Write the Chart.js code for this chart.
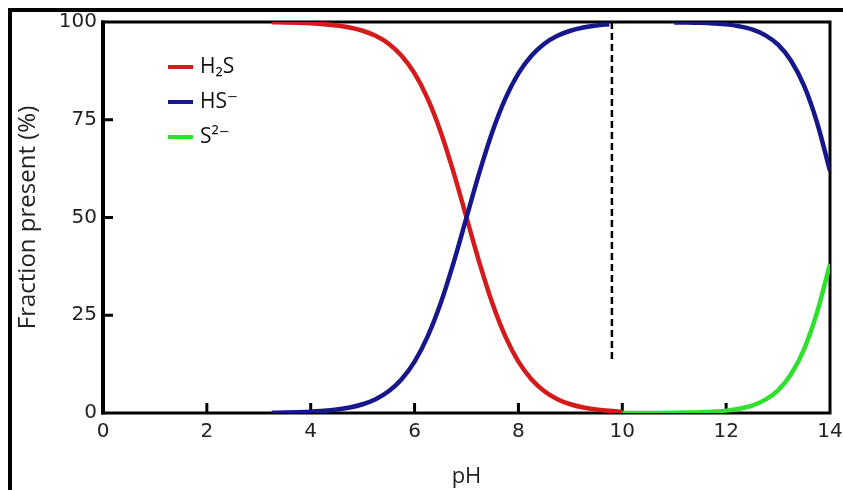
<!DOCTYPE html>
<html>
<head>
<meta charset="utf-8">
<title>Sulfide speciation vs pH</title>
<script src="https://cdn.jsdelivr.net/npm/chart.js@4.4.1/dist/chart.umd.min.js"></script>
<style>
  html, body { margin: 0; padding: 0; background: #fff; }
  #wrap { position: relative; width: 843px; height: 490px; overflow: hidden; }
  #border {
    position: absolute; left: 8px; top: 8px; right: 0; bottom: 0;
    border-top: 4px solid #000; border-left: 4px solid #000;
    pointer-events: none;
  }
</style>
</head>
<body>
<div id="wrap">
  <canvas id="chart" width="843" height="490"></canvas>
  <div id="border"></div>
</div>
<script>
// pH grid and the fraction (%) of each species
const phValues = [3.25, 3.5, 3.75, 4, 4.25, 4.5, 4.75, 5, 5.25, 5.5, 5.75, 6, 6.25, 6.5, 6.75, 7,
  7.25, 7.5, 7.75, 8, 8.25, 8.5, 8.75, 9, 9.25, 9.5, 9.75, 10, 10.25, 10.5, 10.75, 11,
  11.25, 11.5, 11.75, 12, 12.25, 12.5, 12.75, 13, 13.25, 13.5, 13.75, 14];

const h2sValues = [99.92, 99.87, 99.78, 99.65, 99.45, 99.12, 98.59, 97.76, 96.46, 94.44, 91.37, 86.85,
  80.47, 72.0, 61.59, 50.0, 38.41, 28.0, 19.53, 13.15, 8.63, 5.56, 3.54, 2.24, 1.41, 0.88, 0.55, 0.35,
  null, null, null, null, null, null, null, null, null, null, null, null, null, null, null, null];

const hsValues = [0.08, 0.13, 0.22, 0.35, 0.55, 0.88, 1.41, 2.24, 3.54, 5.56, 8.63, 13.15,
  19.53, 28.0, 38.41, 50.0, 61.59, 72.0, 80.47, 86.85, 91.37, 94.44, 96.46, 97.76, 98.59, 99.12, 99.45,
  null, null, null, null,
  99.9, 99.86, 99.78, 99.63, 99.39, 98.9, 98.1, 96.65, 94.2, 90.1, 83.7, 74.3, 61.9];

const s2Values = [null, null, null, null, null, null, null, null, null, null, null, null, null, null,
  null, null, null, null, null, null, null, null, null, null, null, null, null,
  0.0, 0.01, 0.02, 0.03, 0.06, 0.11, 0.19, 0.35, 0.61, 1.08, 1.91, 3.35, 5.8, 9.9, 16.3, 25.7, 38.1];

const seriesNames = ['H\u2082S', 'HS\u207B', 'S\u00B2\u207B'];
const seriesColors = ['#d41a1a', '#17178c', '#2fe02f'];

const xTicks = [0, 2, 4, 6, 8, 10, 12, 14];
const yTicks = [0, 25, 50, 75, 100];

// dashed marker line: pH and its top/bottom (%)
const markerPh = 9.8;
const markerSpan = [100, 13];

const FONT = '"Open Sans", "DejaVu Sans", sans-serif';
const TICK_FONT = '"DejaVu Sans", sans-serif';

function toPoints(values) {
  return phValues.map((x, i) => ({ x: x, y: values[i] }));
}

// plot frame + inward tick marks, drawn under the curves
const framePlugin = {
  id: 'frame',
  beforeDatasetsDraw(chart) {
    const { ctx, chartArea: a, scales } = chart;
    ctx.save();
    ctx.strokeStyle = '#000';
    ctx.lineWidth = 3;
    ctx.strokeRect(a.left, a.top, a.right - a.left, a.bottom - a.top);
    ctx.lineWidth = 4;
    ctx.beginPath();
    ctx.moveTo(a.left, a.top - 1.5);
    ctx.lineTo(a.left, a.bottom + 1.5);
    ctx.stroke();

    ctx.lineWidth = 3;
    xTicks.slice(1, -1).forEach(v => {
      const px = scales.x.getPixelForValue(v);
      ctx.beginPath();
      ctx.moveTo(px, a.bottom);
      ctx.lineTo(px, a.bottom - 10);
      ctx.stroke();
    });
    yTicks.slice(1, -1).forEach(v => {
      const py = scales.y.getPixelForValue(v);
      ctx.beginPath();
      ctx.moveTo(a.left, py);
      ctx.lineTo(a.left + 10, py);
      ctx.stroke();
    });
    ctx.restore();
  }
};

// legend inside the plot, top left
const legendPlugin = {
  id: 'insideLegend',
  afterDatasetsDraw(chart) {
    const { ctx, chartArea: a } = chart;
    ctx.save();
    ctx.font = '21px ' + FONT;
    ctx.textBaseline = 'middle';
    ctx.fillStyle = '#111';
    seriesNames.forEach((name, i) => {
      const y = a.top + 45 + i * 35;
      ctx.strokeStyle = seriesColors[i];
      ctx.lineWidth = 4;
      ctx.beginPath();
      ctx.moveTo(a.left + 65, y);
      ctx.lineTo(a.left + 90, y);
      ctx.stroke();
      ctx.fillText(name, a.left + 97, y);
    });
    ctx.restore();
  }
};

const lineStyle = { pointRadius: 0, borderWidth: 4.5, fill: false, cubicInterpolationMode: 'monotone', spanGaps: false };

new Chart(document.getElementById('chart'), {
  type: 'line',
  data: {
    datasets: [
      Object.assign({ label: seriesNames[1], data: toPoints(hsValues), borderColor: seriesColors[1], order: 0 }, lineStyle),
      Object.assign({ label: seriesNames[0], data: toPoints(h2sValues), borderColor: seriesColors[0], order: 1 }, lineStyle),
      Object.assign({ label: seriesNames[2], data: toPoints(s2Values), borderColor: seriesColors[2], order: 2 }, lineStyle),
      {
        label: 'marker',
        data: markerSpan.map(v => ({ x: markerPh, y: v })),
        borderColor: '#000', borderWidth: 2.5, borderDash: [7, 4],
        pointRadius: 0, tension: 0, order: 3
      }
    ]
  },
  options: {
    responsive: false,
    animation: false,
    layout: { padding: { left: 12, right: 13, top: 22, bottom: 0 } },
    plugins: { legend: { display: false }, tooltip: { enabled: false } },
    scales: {
      x: {
        type: 'linear', min: 0, max: 14,
        afterBuildTicks: s => { s.ticks = xTicks.map(v => ({ value: v })); },
        afterFit: s => { s.height = 77; s.paddingLeft = 0; s.paddingRight = 0; },
        grid: { display: false, drawTicks: false },
        border: { display: false },
        ticks: { color: '#222', font: { family: TICK_FONT, size: 20 }, padding: 7 },
        title: { display: true, text: 'pH', color: '#222', font: { family: FONT, size: 22 }, padding: { top: 0, bottom: 0 } }
      },
      y: {
        min: 0, max: 100,
        afterBuildTicks: s => { s.ticks = yTicks.map(v => ({ value: v })); },
        afterFit: s => { s.width = 91; },
        grid: { display: false, drawTicks: false },
        border: { display: false },
        ticks: { color: '#222', font: { family: TICK_FONT, size: 20 }, padding: 6 },
        title: { display: true, text: 'Fraction present (%)', color: '#222', font: { family: FONT, size: 24 }, padding: { top: 2, bottom: 0 } }
      }
    }
  },
  plugins: [framePlugin, legendPlugin]
});
</script>
</body>
</html>
